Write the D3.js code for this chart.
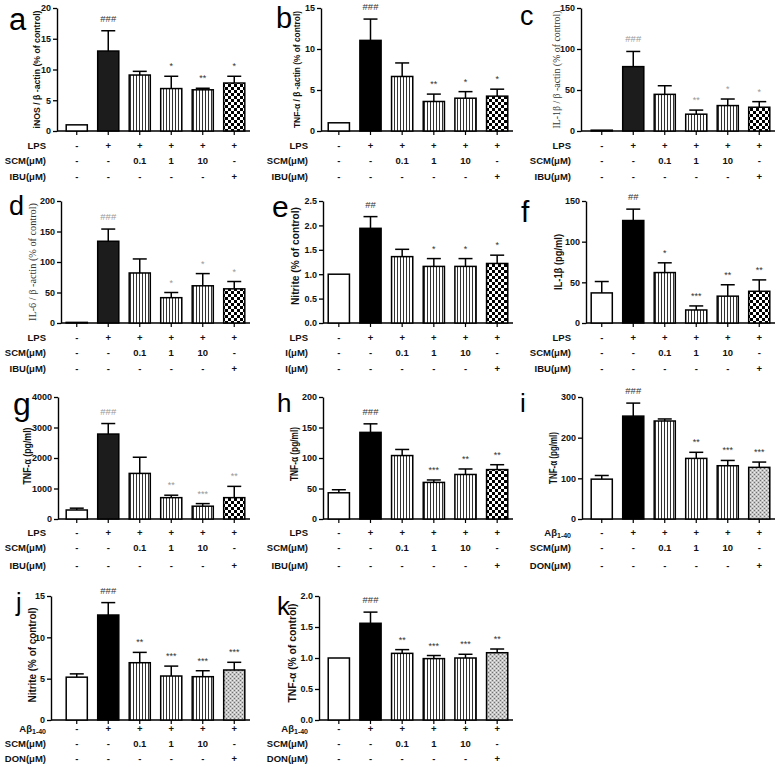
<!DOCTYPE html>
<html><head><meta charset="utf-8">
<script src="https://cdn.jsdelivr.net/npm/d3@7"></script>
<style>body{margin:0;background:#fff;} svg{display:block;}</style>
</head><body><svg id="c" width="778" height="767"></svg>
<script>
// ---------- DATA ----------
const groups = ["Control", "Stimulus", "SCM 0.1", "SCM 1", "SCM 10", "Reference"];
const rowStim = ["-", "+", "+", "+", "+", "+"];
const rowSCM  = ["-", "-", "0.1", "1", "10", "-"];
const rowRef  = ["-", "-", "-", "-", "-", "+"];
const namesLPS = ["LPS", "SCM(μM)", "IBU(μM)"];
const namesE   = ["LPS", "I(μM)", "I(μM)"];
const namesAB  = ["Aβ|1-40", "SCM(μM)", "DON(μM)"];

const aValues = [1, 13.0, 9.1, 6.9, 6.7, 7.8];
const aErrors = [0, 3.3, 0.6, 2.0, 0.25, 1.1];
const aMarks  = ["", "###", "", "*", "**", "*"];
const aTicks  = [0, 5, 10, 15, 20];

const bValues = [1, 11.05, 6.65, 3.6, 4.0, 4.25];
const bErrors = [0, 2.6, 1.65, 0.9, 0.8, 0.85];
const bMarks  = ["", "###", "", "**", "*", "*"];
const bTicks  = [0, 5, 10, 15];

const cValues = [1, 78.5, 44.7, 20.5, 31, 29];
const cErrors = [0, 18.5, 10.5, 5, 8, 6.8];
const cMarks  = ["", "###", "", "**", "*", "*"];
const cTicks  = [0, 50, 100, 150];

const dValues = [1, 134, 82, 41.5, 61, 56];
const dErrors = [0, 20, 23, 8.5, 20, 12];
const dMarks  = ["", "###", "", "*", "*", "*"];
const dTicks  = [0, 50, 100, 150, 200];

const eValues = [1.0, 1.94, 1.36, 1.16, 1.16, 1.22];
const eErrors = [0, 0.24, 0.15, 0.16, 0.16, 0.17];
const eMarks  = ["", "##", "", "*", "*", "*"];
const eTicks  = [0, 0.5, 1.0, 1.5, 2.0, 2.5];

const fValues = [37, 126, 62, 16, 33, 39];
const fErrors = [14, 14, 12, 5, 14, 14];
const fMarks  = ["", "##", "*", "***", "**", "**"];
const fTicks  = [0, 50, 100, 150];

const gValues = [295, 2785, 1495, 700, 420, 700];
const gErrors = [60, 345, 530, 80, 85, 370];
const gMarks  = ["", "###", "", "**", "***", "**"];
const gTicks  = [0, 1000, 2000, 3000, 4000];

const hValues = [43, 142, 104, 60, 73, 81];
const hErrors = [5, 14, 10, 4, 9, 8];
const hMarks  = ["", "###", "", "***", "**", "**"];
const hTicks  = [0, 50, 100, 150, 200];

const iValues = [98, 253, 241, 149, 131, 127];
const iErrors = [9, 32, 5, 15, 13, 13];
const iMarks  = ["", "###", "", "**", "***", "***"];
const iTicks  = [0, 100, 200, 300];

const jValues = [5.18, 12.7, 6.93, 5.32, 5.24, 6.05];
const jErrors = [0.4, 1.5, 1.25, 1.2, 0.72, 0.93];
const jMarks  = ["", "###", "**", "***", "***", "***"];
const jTicks  = [0, 5, 10, 15];

const kValues = [1.0, 1.56, 1.075, 0.99, 1.0, 1.085];
const kErrors = [0, 0.18, 0.06, 0.05, 0.06, 0.06];
const kMarks  = ["", "###", "**", "***", "***", "**"];
const kTicks  = [0, 0.5, 1.0, 1.5, 2.0];

// ---------- LAYOUT / STYLE ----------
const cols = [[61, 250], [323, 513], [586, 775]];
const rows = [
  {y0: 131, top: 8,   offs: [15, 29.5, 46]},
  {y0: 323, top: 201, offs: [15, 30, 46]},
  {y0: 519, top: 397, offs: [14, 29, 47]},
  {y0: 720, top: 596, offs: [9, 24, 39]}
];

const panels = [
  {L:"a", v:aValues, e:aErrors, m:aMarks, t:aTicks, fmt:"d", names:namesLPS, col:0, row:0, ax:57, lab:"iNOS / β -actin (% of control)", labDx:-20, labLen:118, labFs:8.5, serif:false, letter:[9,30,31], stim:"#1c1c1c", ref:"checker", markCol:"#333"},
  {L:"b", v:bValues, e:bErrors, m:bMarks, t:bTicks, fmt:"d", names:namesLPS, col:1, row:0, ax:321, lab:"TNF-α / β -actin (% of control)", labDx:-24, labLen:117, labFs:8.5, serif:false, letter:[276,28,29], stim:"#000", ref:"checker", markCol:"#333"},
  {L:"c", v:cValues, e:cErrors, m:cMarks, t:cTicks, fmt:"d", names:namesLPS, col:2, row:0, ax:581, lab:"IL-1β / β -actin (% of control)", labDx:-24, labLen:118, labFs:9.5, serif:true, letter:[520,25,27], stim:"#1c1c1c", ref:"checker", markCol:"#999"},
  {L:"d", v:dValues, e:dErrors, m:dMarks, t:dTicks, fmt:"d", names:namesLPS, col:0, row:1, ax:61, lab:"IL-6 / β -actin (% of control)", labDx:-29, labLen:118, labFs:10, serif:true, letter:[9,215,27], stim:"#1c1c1c", ref:"checker", markCol:"#999"},
  {L:"e", v:eValues, e:eErrors, m:eMarks, t:eTicks, fmt:".1f", names:namesE, col:1, row:1, ax:323, lab:"Nitrite (% of control)", labDx:-28, labLen:98, labFs:10, serif:false, letter:[272,217,30], stim:"#000", ref:"checker", markCol:"#333", labShift:-6},
  {L:"f", v:fValues, e:fErrors, m:fMarks, t:fTicks, fmt:"d", names:namesLPS, col:2, row:1, ax:586, lab:"IL-1β (pg/ml)", labDx:-28, labLen:56, labFs:10, serif:false, letter:[521,222,30], stim:"#000", ref:"checker", markCol:"#333"},
  {L:"g", v:gValues, e:gErrors, m:gMarks, t:gTicks, fmt:"d", names:namesLPS, col:0, row:2, ax:58, lab:"TNF-α (pg/ml)", labDx:-31, labLen:57, labFs:10, serif:false, letter:[13,415,32], stim:"#1c1c1c", ref:"checker", markCol:"#999", labShift:-2},
  {L:"h", v:hValues, e:hErrors, m:hMarks, t:hTicks, fmt:"d", names:namesLPS, col:1, row:2, ax:323, lab:"TNF-α (pg/ml)", labDx:-29, labLen:54, labFs:10, serif:false, letter:[277,412,26], stim:"#000", ref:"checker", markCol:"#333", labShift:-4},
  {L:"i", v:iValues, e:iErrors, m:iMarks, t:iTicks, fmt:"d", names:namesAB, col:2, row:2, ax:582, lab:"TNF-α (pg/ml)", labDx:-29, labLen:52, labFs:10, serif:false, letter:[520,412,26], stim:"#000", ref:"dots", markCol:"#333", labShift:0},
  {L:"j", v:jValues, e:jErrors, m:jMarks, t:jTicks, fmt:"d", names:namesAB, col:0, row:3, ax:51, lab:"Nitrite (% of control)", labDx:-19, labLen:95, labFs:10, serif:false, letter:[16,611,25], stim:"#000", ref:"dots", markCol:"#333", labShift:-3},
  {L:"k", v:kValues, e:kErrors, m:kMarks, t:kTicks, fmt:".1f", names:namesAB, col:1, row:3, ax:319, lab:"TNF-α (% of control)", labDx:-27, labLen:99, labFs:10, serif:false, letter:[277,615,26], stim:"#000", ref:"dots", markCol:"#333", labShift:-5}
];

const SANS = "'Liberation Sans', Arial, Helvetica, sans-serif";
const SERIF = "'Liberation Serif', 'Times New Roman', serif";

const svg = d3.select("#c");
svg.append("rect").attr("width", 778).attr("height", 767).attr("fill", "#fff");
const defs = svg.append("defs");

const st = defs.append("pattern").attr("id", "stripes").attr("patternUnits", "userSpaceOnUse").attr("width", 3).attr("height", 4);
st.append("rect").attr("width", 3).attr("height", 4).attr("fill", "#fff");
st.append("rect").attr("x", 1).attr("width", 1).attr("height", 4).attr("fill", "#333");

const ck = defs.append("pattern").attr("id", "checker").attr("patternUnits", "userSpaceOnUse").attr("width", 6).attr("height", 6);
ck.append("rect").attr("width", 6).attr("height", 6).attr("fill", "#fff");
ck.append("rect").attr("width", 3).attr("height", 3).attr("fill", "#000");
ck.append("rect").attr("x", 3).attr("y", 3).attr("width", 3).attr("height", 3).attr("fill", "#000");

const dt = defs.append("pattern").attr("id", "dots").attr("patternUnits", "userSpaceOnUse").attr("width", 4).attr("height", 4);
dt.append("rect").attr("width", 4).attr("height", 4).attr("fill", "#c4c4c4");
dt.append("rect").attr("width", 1).attr("height", 1).attr("fill", "#707070");
dt.append("rect").attr("x", 2).attr("y", 2).attr("width", 1).attr("height", 1).attr("fill", "#707070");
dt.append("rect").attr("x", 2).attr("y", 0).attr("width", 1).attr("height", 1).attr("fill", "#eeeeee");
dt.append("rect").attr("x", 0).attr("y", 2).attr("width", 1).attr("height", 1).attr("fill", "#eeeeee");

panels.forEach(p => {
  const R = rows[p.row];
  const C = cols[p.col];
  const g = svg.append("g");
  const x = d3.scaleBand().domain(d3.range(groups.length)).range(C).paddingInner(0.33).paddingOuter(0.165);
  const y = d3.scaleLinear().domain([0, d3.max(p.t)]).range([R.y0, R.top]);
  const fmt = d3.format(p.fmt);

  // y axis
  const yAxis = d3.axisLeft(y).tickValues(p.t).tickFormat(fmt).tickSize(4).tickSizeOuter(0).tickPadding(2);
  const ya = g.append("g").attr("transform", `translate(${p.ax},0)`).call(yAxis);
  ya.select(".domain").attr("stroke", "#000").attr("stroke-width", 1.4);
  ya.selectAll(".tick line").attr("stroke", "#000").attr("stroke-width", 1.3);
  ya.selectAll(".tick text").attr("font-family", SANS).attr("font-weight", "bold").attr("font-size", 9).attr("fill", "#111");

  // x axis
  const xAxis = d3.axisBottom(x).tickFormat("").tickSize(4).tickSizeOuter(0);
  const xa = g.append("g").attr("transform", `translate(0,${R.y0})`).call(xAxis);
  xa.select(".domain").attr("d", `M${p.ax},0H${C[1]}`).attr("stroke", "#000").attr("stroke-width", 1.4);
  xa.selectAll(".tick line").attr("stroke", "#000").attr("stroke-width", 1.2);

  const fills = ["#fff", p.stim, "url(#stripes)", "url(#stripes)", "url(#stripes)", `url(#${p.ref})`];

  // error bars
  const eb = g.append("g").attr("stroke", "#000").attr("stroke-width", 1.5).attr("fill", "none");
  p.v.forEach((v, i) => {
    if (!p.e[i]) return;
    const cx = x(i) + x.bandwidth() / 2;
    eb.append("line").attr("x1", cx).attr("x2", cx).attr("y1", y(v)).attr("y2", y(v + p.e[i]));
    eb.append("line").attr("x1", cx - 7).attr("x2", cx + 7).attr("y1", y(v + p.e[i])).attr("y2", y(v + p.e[i]));
  });

  // bars
  g.append("g").selectAll("rect").data(p.v).join("rect")
    .attr("x", (d, i) => x(i))
    .attr("width", x.bandwidth())
    .attr("y", d => y(d))
    .attr("height", d => R.y0 - y(d))
    .attr("fill", (d, i) => fills[i])
    .attr("stroke", "#000").attr("stroke-width", 1.5);

  // significance marks
  g.append("g").selectAll("text").data(p.m).join("text")
    .attr("x", (d, i) => x(i) + x.bandwidth() / 2)
    .attr("y", (d, i) => y(p.v[i] + p.e[i]) - (d.startsWith("#") ? 9 : 7))
    .attr("text-anchor", "middle")
    .attr("font-family", SANS).attr("font-size", d => d.startsWith("#") ? 9.5 : 9)
    .attr("fill", p.markCol)
    .text(d => d);

  // y label
  const ymid = (R.y0 + R.top) / 2 + (p.labShift || 0);
  g.append("text")
    .attr("transform", `translate(${p.ax + p.labDx},${ymid}) rotate(-90)`)
    .attr("text-anchor", "middle").attr("dominant-baseline", "central")
    .attr("font-family", p.serif ? SERIF : SANS)
    .attr("font-weight", p.serif ? "normal" : "bold")
    .attr("font-size", p.labFs)
    .attr("fill", p.serif ? "#333" : "#111")
    .attr("textLength", p.labLen).attr("lengthAdjust", "spacingAndGlyphs")
    .text(p.lab);

  // condition rows
  const rowVals = [rowStim, rowSCM, rowRef];
  rowVals.forEach((arr, r) => {
    const yy = R.y0 + R.offs[r];
    const nm = p.names[r];
    const t = g.append("text").attr("x", C[0] - 15).attr("y", yy).attr("dy", "0.35em")
      .attr("text-anchor", "end").attr("font-family", SANS).attr("font-weight", "bold")
      .attr("font-size", 9.5).attr("fill", "#111");
    if (nm.includes("|")) {
      const [a, b] = nm.split("|");
      t.append("tspan").text(a);
      t.append("tspan").attr("font-size", 7).attr("dy", "0.3em").text(b);
    } else t.text(nm);
    g.append("g").selectAll("text").data(arr).join("text")
      .attr("x", (d, i) => x(i) + x.bandwidth() / 2)
      .attr("y", yy).attr("dy", "0.35em")
      .attr("text-anchor", "middle").attr("font-family", SANS).attr("font-weight", "bold")
      .attr("font-size", 9.5).attr("fill", "#111")
      .text(d => d);
  });

  // panel letter
  g.append("text").attr("x", p.letter[0]).attr("y", p.letter[1])
    .attr("font-family", SANS).attr("font-size", p.letter[2]).attr("fill", "#000")
    .text(p.L);
});
</script>
</body></html>
